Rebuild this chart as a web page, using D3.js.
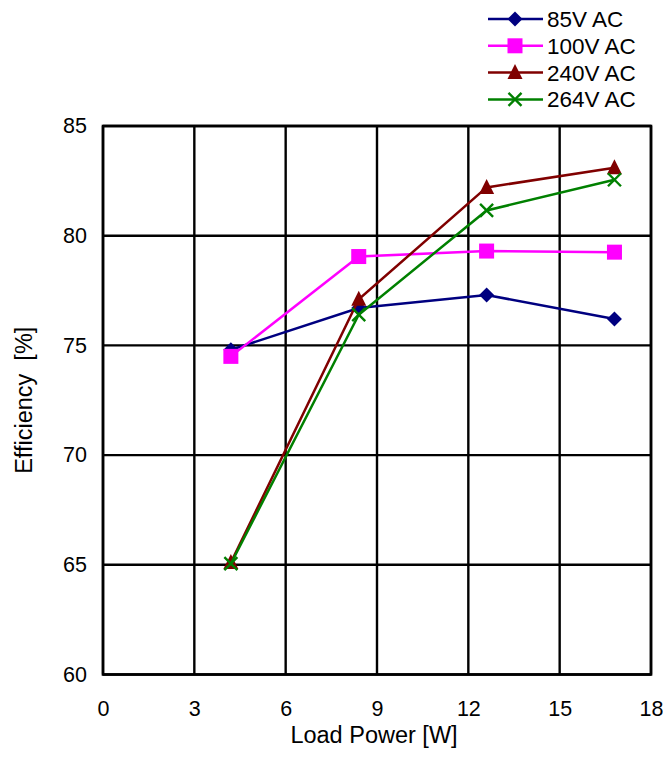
<!DOCTYPE html>
<html>
<head>
<meta charset="utf-8">
<script src="https://cdn.jsdelivr.net/npm/d3@7"></script>
<style>
  body { margin: 0; background: #fff; }
  text { font-family: Arial, "Liberation Sans", sans-serif; fill: #000; }
</style>
</head>
<body>
<div class="chart"></div>
<script>
// data
var loadPower = [4.2, 8.4, 12.6, 16.8];
var eff85 = [74.8, 76.7, 77.3, 76.2];
var eff100 = [74.5, 79.05, 79.3, 79.25];
var eff240 = [65.1, 77.1, 82.2, 83.1];
var eff264 = [65.05, 76.4, 81.15, 82.55];
var seriesNames = ["85V AC", "100V AC", "240V AC", "264V AC"];
var xTicks = [0, 3, 6, 9, 12, 15, 18];
var yTicks = [60, 65, 70, 75, 80, 85];

var svgWidth = 663;
var svgHeight = 758;
var margin = { top: 126, right: 12, bottom: 83.5, left: 103 };
var width = svgWidth - margin.left - margin.right;
var height = svgHeight - margin.top - margin.bottom;

var series = [
  { name: seriesNames[0], values: eff85, color: "#000080", marker: "diamond" },
  { name: seriesNames[1], values: eff100, color: "#FF00FF", marker: "square" },
  { name: seriesNames[2], values: eff240, color: "#800000", marker: "triangle" },
  { name: seriesNames[3], values: eff264, color: "#008000", marker: "cross" }
];

var svg = d3.select(".chart")
  .append("svg")
  .attr("width", svgWidth)
  .attr("height", svgHeight);

var chart = svg.append("g")
  .attr("transform", "translate(" + margin.left + "," + margin.top + ")");

var xScale = d3.scaleLinear().domain([0, 18]).range([0, width]);
var yScale = d3.scaleLinear().domain([60, 85]).range([height, 0]);

// grid lines
chart.append("g")
  .selectAll("line")
  .data(xTicks)
  .enter()
  .append("line")
  .attr("x1", function(d) { return xScale(d); })
  .attr("x2", function(d) { return xScale(d); })
  .attr("y1", 0)
  .attr("y2", height)
  .attr("stroke", "#000")
  .attr("stroke-width", 2.4);

chart.append("g")
  .selectAll("line")
  .data(yTicks)
  .enter()
  .append("line")
  .attr("x1", 0)
  .attr("x2", width)
  .attr("y1", function(d) { return yScale(d); })
  .attr("y2", function(d) { return yScale(d); })
  .attr("stroke", "#000")
  .attr("stroke-width", 2.4);

// frame
chart.append("rect")
  .attr("x", 0)
  .attr("y", 0)
  .attr("width", width)
  .attr("height", height)
  .attr("fill", "none")
  .attr("stroke", "#000")
  .attr("stroke-width", 2.6);

// axes (labels only, the grid draws the lines)
var bottomAxis = d3.axisBottom(xScale).tickValues(xTicks).tickSize(0).tickPadding(26);
var leftAxis = d3.axisLeft(yScale).tickValues(yTicks).tickSize(0).tickPadding(16);

chart.append("g")
  .attr("transform", "translate(0," + height + ")")
  .call(bottomAxis)
  .call(function(g) { g.select(".domain").remove(); })
  .selectAll("text")
  .style("font-size", "21.5px");

chart.append("g")
  .call(leftAxis)
  .call(function(g) { g.select(".domain").remove(); })
  .selectAll("text")
  .style("font-size", "21.5px");

// axis titles
svg.append("text")
  .attr("x", margin.left + width / 2 - 3)
  .attr("y", 743)
  .attr("text-anchor", "middle")
  .style("font-size", "23.5px")
  .text("Load Power [W]");

svg.append("text")
  .attr("transform", "translate(32," + (margin.top + height / 2) + ") rotate(-90)")
  .attr("text-anchor", "middle")
  .style("font-size", "23.5px")
  .style("white-space", "pre")
  .attr("xml:space", "preserve")
  .text("Efficiency  [%]");

// marker drawing
function drawMarker(g, type, color) {
  if (type === "diamond") {
    g.append("path").attr("d", "M0,-7.5L7.5,0L0,7.5L-7.5,0Z").attr("fill", color);
  } else if (type === "square") {
    g.append("rect").attr("x", -7.5).attr("y", -7.5).attr("width", 15).attr("height", 15).attr("fill", color);
  } else if (type === "triangle") {
    g.append("path").attr("d", "M0,-8.5L7.5,6.5L-7.5,6.5Z").attr("fill", color);
  } else {
    g.append("path").attr("d", "M-6.5,-6.5L6.5,6.5M-6.5,6.5L6.5,-6.5")
      .attr("stroke", color).attr("stroke-width", 2.4).attr("fill", "none");
  }
}

var line = d3.line()
  .x(function(d, i) { return xScale(loadPower[i]); })
  .y(function(d) { return yScale(d); });

series.forEach(function(s) {
  chart.append("path")
    .datum(s.values)
    .attr("d", line)
    .attr("fill", "none")
    .attr("stroke", s.color)
    .attr("stroke-width", 2.5);

  s.values.forEach(function(v, i) {
    var m = chart.append("g")
      .attr("transform", "translate(" + xScale(loadPower[i]) + "," + yScale(v) + ")");
    drawMarker(m, s.marker, s.color);
  });
});

// legend
var legend = svg.append("g");
series.forEach(function(s, i) {
  var y = 19 + i * 26.8;
  legend.append("line")
    .attr("x1", 488).attr("x2", 543)
    .attr("y1", y).attr("y2", y)
    .attr("stroke", s.color)
    .attr("stroke-width", 2.5);
  var m = legend.append("g").attr("transform", "translate(515," + y + ")");
  drawMarker(m, s.marker, s.color);
  legend.append("text")
    .attr("x", 547)
    .attr("y", y + 8)
    .style("font-size", "22.5px")
    .text(s.name);
});
</script>
</body>
</html>
